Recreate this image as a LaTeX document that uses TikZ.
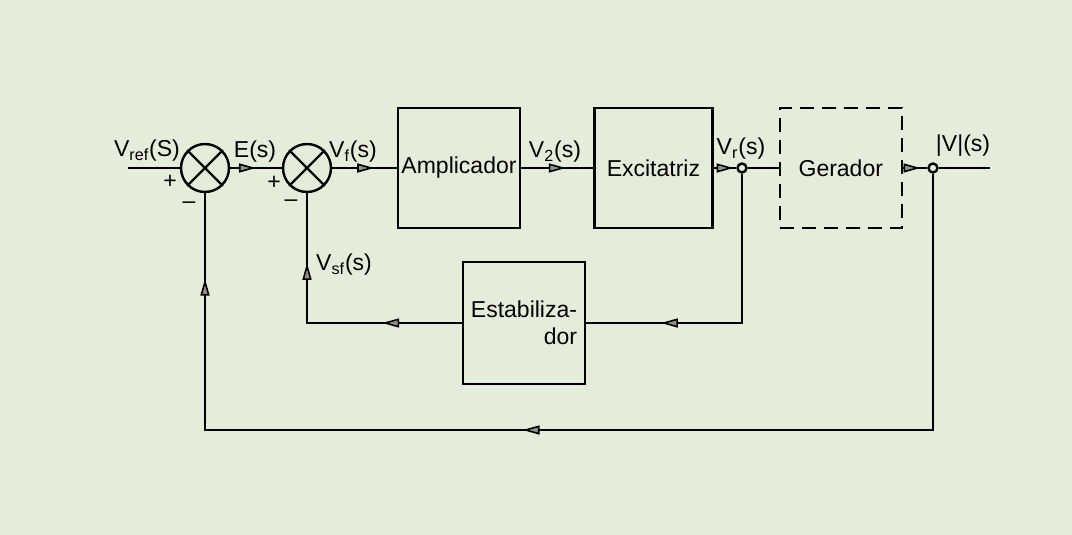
\documentclass[tikz,border=0pt]{standalone}
\usepackage{fontspec}
\setmainfont{Liberation Sans}
\usepackage{xcolor}
\usetikzlibrary{shapes,arrows,arrows.meta,positioning,decorations.markings}

\definecolor{paper}{RGB}{227,237,217}
\definecolor{tipgray}{RGB}{140,146,140}

\begin{document}
\begin{tikzpicture}[x=0.5pt, y=-0.5pt, line width=1.2pt, font=\fontsize{11.5}{13.5}\selectfont]
    \tikzstyle{block} = [rectangle, draw, minimum width=61pt, minimum height=60pt, inner sep=1pt]
    \tikzstyle{sum} = [circle, draw, minimum size=24pt, inner sep=0pt]
    \tikzstyle{dot} = [circle, draw, fill=paper, minimum size=4.5pt, inner sep=0pt]
    \tikzstyle{line} = [draw]
    \tikzset{tip at/.style={postaction={decorate, decoration={markings,
        mark=at position #1 with {\arrow[line width=0.8pt]{Triangle[length=8.5pt, width=4.5pt, fill=tipgray]}}}}}}

    \useasboundingbox (0,0) rectangle (1072,535);
    \fill [paper] (0,0) rectangle (1072,535);

    % forward path
    \coordinate (in) at (128,168);
    \node [sum] (s1) at (205,168) {};
    \node [sum] (s2) at (307,168) {};
    \node [block] (amp) at (459,168) {Amplicador};
    \node [block, right=36pt of amp, minimum width=59pt] (exc) {Excitatriz};
    \node [dot] (j1) at (742,168) {};
    \node [block, right=32.5pt of exc, dashed, dash pattern=on 7pt off 4pt] (ger) {Gerador};
    \node [dot] (j2) at (933,168) {};
    \coordinate (out) at (990,168);
    \coordinate (low) at (0,430);

    % feedback
    \node [block, align=right, minimum height=61pt] (est) at (524,323) {Estabiliza-\\dor};

    \foreach \s in {s1,s2} {
        \draw (\s.north west) -- (\s.south east) (\s.north east) -- (\s.south west);
    }

    \path [line] (in) -- (s1);
    \path [line, tip at=0.5] (s1) -- (s2);
    \path [line, tip at=0.65] (s2) -- (amp);
    \path [line, tip at=0.62] (amp) -- (exc);
    \path [line, tip at=0.88] (exc) -- (j1);
    \path [line] (j1) -- (ger);
    \path [line, tip at=0.72] (ger) -- (j2);
    \path [line] (j2) -- (out);
    \path [line, tip at=0.755] (j1) |- (est);
    \path [line, tip at=0.28, tip at=0.755] (est) -| (s2);
    \path [line, tip at=0.546, tip at=0.93] (j2) -- (j2 |- low) -| (s1);

    % signal names
    \node (vref) at (147,151) {V\textsubscript{ref}(S)};
    \node (es) at (255,152) {E(s)};
    \node (vf) at (353,152) {V\textsubscript{f}(s)};
    \node (v2) at (555,152) {V\textsubscript{2}(s)};
    \node (vr) at (741,149) {V\textsubscript{r}(s)};
    \node (vabs) at (963,146) {|V|(s)};
    \node (vsf) at (344,265) {V\textsubscript{sf}(s)};
    \node (p1) at (170,182) {+};
    \node (m1) at (189,205) {--};
    \node (p2) at (274,183) {+};
    \node (m2) at (291,203) {--};
\end{tikzpicture}
\end{document}
